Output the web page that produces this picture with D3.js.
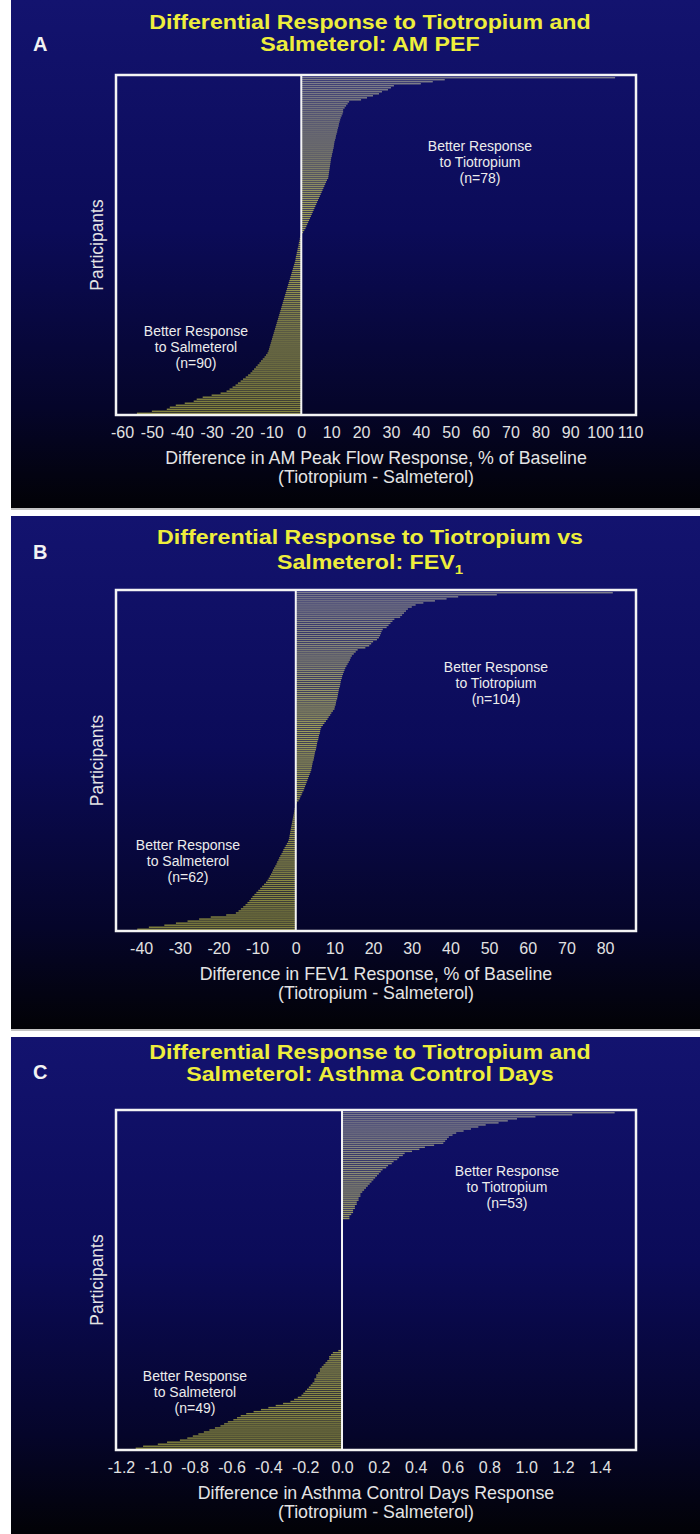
<!DOCTYPE html>
<meta charset="utf-8">
<style type="text/css">
body {
  margin: 0;
  background: #fff;
  font-family: "Liberation Sans", Arial, sans-serif;
}
.title { font-size: 20px; font-weight: bold; fill: #eeee3c; }
.letter { font-size: 20px; font-weight: bold; fill: #f2f2f2; }
.axis text { font-size: 16px; fill: #e2e2e2; font-family: "Liberation Sans", Arial, sans-serif; }
.axis path, .axis line { display: none; }
.axis-title { font-size: 17.8px; fill: #e4e4e4; }
.note { font-size: 14px; fill: #ececec; }
.ylabel { font-size: 17.5px; fill: #e4e4e4; }
</style>
<body>
<script src="https://cdn.jsdelivr.net/npm/d3@7"></script>
<script>
// ---- data (sorted, top of plot = first value) ----
var amPefPositive = [105, 48, 44, 40, 31, 30, 29, 27, 26, 24, 22, 20, 16, 15.5, 15,
  14.5, 14, 14, 13.8, 13.5, 13.2, 13, 12.8, 12.6, 12.5, 12.3, 12.1, 12, 11.8, 11.6,
  11.5, 11.3, 11.1, 11, 10.9, 10.8, 10.6, 10.5, 10.3, 10.2, 10, 9.9, 9.8, 9.7, 9.6,
  9.5, 9.4, 9.3, 9.2, 9.1, 9.0, 8.6, 8.3, 8.0, 7.7, 7.4, 7.1, 6.8, 6.5, 6.2, 5.9,
  5.6, 5.3, 5.0, 4.7, 4.4, 4.1, 3.8, 3.5, 3.2, 2.9, 2.6, 2.3, 2.0, 1.7, 1.4, 1.0, 0.6];
var amPefNegative = [-0.2, -0.3, -0.5, -0.6, -0.8, -0.9, -1.0, -1.2, -1.3, -1.5, -1.6,
  -1.8, -1.9, -2.0, -2.2, -2.4, -2.6, -2.8, -3.0, -3.2, -3.4, -3.6, -3.8, -4.0, -4.2,
  -4.4, -4.6, -4.8, -5.0, -5.2, -5.4, -5.6, -5.8, -6.0, -6.2, -6.4, -6.6, -6.8, -7.0,
  -7.2, -7.4, -7.6, -7.8, -8.0, -8.2, -8.4, -8.6, -8.8, -9.0, -9.2, -9.4, -9.6, -9.8,
  -10.0, -10.2, -10.4, -10.6, -10.8, -11.0, -11.3, -11.8, -12.3, -12.9, -13.5, -14.0,
  -14.6, -15.2, -15.8, -16.4, -17.0, -17.8, -18.6, -19.5, -20.3, -21.2, -22.0, -23.0,
  -24, -25, -27, -30, -33, -35, -36, -39, -42, -44, -45, -50, -55];

var fevPositive = [82, 52, 42, 39, 36, 33, 31, 30, 29, 28.5, 28, 27.5, 27, 25.5, 25,
  24.5, 24, 23.5, 22.5, 22.2, 22, 21.8, 21.5, 21, 20, 19.5, 19, 18, 16, 15.5, 15,
  14.5, 14.2, 14, 13.7, 13.4, 13.1, 12.8, 12.6, 12.4, 12.2, 12.0, 11.9, 11.7, 11.6,
  11.5, 11.4, 11.2, 11.1, 11.0, 10.9, 10.8, 10.7, 10.5, 10.4, 10.3, 10.1, 10.0, 9.6,
  9.2, 8.9, 8.5, 8.2, 7.8, 7.4, 7.0, 6.6, 6.4, 6.3, 6.2, 6.0, 5.9, 5.8, 5.6, 5.5, 5.4,
  5.3, 5.2, 5.0, 4.9, 4.8, 4.7, 4.6, 4.4, 4.3, 4.2, 4.1, 4.0, 3.8, 3.6, 3.4, 3.2, 3.0,
  2.8, 2.6, 2.4, 2.2, 2.0, 1.7, 1.5, 1.2, 1.0, 0.7, 0.3];
var fevNegative = [-0.1, -0.2, -0.3, -0.4, -0.5, -0.6, -0.7, -0.8, -0.9, -1.0, -1.1,
  -1.2, -1.3, -1.4, -1.5, -1.6, -1.7, -1.8, -2.0, -2.3, -2.6, -2.9, -3.2, -3.4, -3.7,
  -4.0, -4.3, -4.5, -4.8, -5.0, -5.3, -5.6, -5.9, -6.1, -6.4, -6.7, -7.0, -7.3, -7.7,
  -8.2, -8.7, -9.2, -9.7, -10.2, -10.7, -11.2, -11.6, -12.0, -12.5, -13, -13.6, -14.2,
  -14.8, -15.5, -18, -22, -25, -28, -31, -34, -38, -41];

var acdPositive = [1.48, 1.25, 1.05, 0.95, 0.90, 0.85, 0.78, 0.74, 0.70, 0.66, 0.62,
  0.60, 0.58, 0.57, 0.56, 0.55, 0.50, 0.45, 0.42, 0.38, 0.34, 0.33, 0.31, 0.30, 0.28,
  0.27, 0.25, 0.24, 0.22, 0.21, 0.20, 0.19, 0.18, 0.17, 0.16, 0.15, 0.14, 0.13, 0.12,
  0.11, 0.10, 0.10, 0.09, 0.09, 0.08, 0.08, 0.07, 0.07, 0.06, 0.06, 0.05, 0.04, 0.04];
var acdNegative = [-0.02, -0.05, -0.06, -0.07, -0.07, -0.08, -0.09, -0.10, -0.11,
  -0.12, -0.12, -0.13, -0.14, -0.14, -0.15, -0.15, -0.16, -0.17, -0.18, -0.19, -0.20,
  -0.21, -0.22, -0.24, -0.26, -0.28, -0.32, -0.36, -0.40, -0.44, -0.48, -0.52, -0.55,
  -0.57, -0.59, -0.62, -0.64, -0.66, -0.69, -0.72, -0.75, -0.78, -0.81, -0.84, -0.88,
  -0.95, -1.0, -1.08, -1.12];

// participants per panel (panel C also has participants with no difference)
var participantsA = 168;
var participantsB = 166;
var participantsC = 166;

var ticksA = [-60, -50, -40, -30, -20, -10, 0, 10, 20, 30, 40, 50, 60, 70, 80, 90, 100, 110];
var ticksB = [-40, -30, -20, -10, 0, 10, 20, 30, 40, 50, 60, 70, 80];
var ticksC = [-1.2, -1.0, -0.8, -0.6, -0.4, -0.2, 0.0, 0.2, 0.4, 0.6, 0.8, 1.0, 1.2, 1.4];

var W = 700, H = 1534;
var frameLeft = 116, frameRight = 636, titleX = 370;

var panels = [
  { letter: "A", top: 0, height: 508, frameTop: 75, frameBottom: 415,
    domain: [-62, 112], ticks: ticksA, fmt: function(d) { return String(d); },
    pos: amPefPositive, neg: amPefNegative, total: participantsA,
    title: ["Differential Response to Tiotropium and", "Salmeterol: AM PEF"], titleY: [29, 51], letterY: 51,
    axisTitle: "Difference in AM Peak Flow Response, % of Baseline",
    tio: { x: 480, y: 146, n: "(n=78)" }, sal: { x: 196, y: 331, n: "(n=90)" } },
  { letter: "B", top: 516, height: 513, frameTop: 590, frameBottom: 931,
    domain: [-46.5, 88], ticks: ticksB, fmt: function(d) { return String(d); },
    pos: fevPositive, neg: fevNegative, total: participantsB,
    title: ["Differential Response to Tiotropium vs", "Salmeterol: FEV"], sub: "1", titleY: [544, 569], letterY: 559,
    axisTitle: "Difference in FEV1 Response, % of Baseline",
    tio: { x: 496, y: 667, n: "(n=104)" }, sal: { x: 188, y: 845, n: "(n=62)" } },
  { letter: "C", top: 1037, height: 497, frameTop: 1110, frameBottom: 1450,
    domain: [-1.227, 1.596], ticks: ticksC, fmt: function(d) { return d.toFixed(1); },
    pos: acdPositive, neg: acdNegative, total: participantsC,
    title: ["Differential Response to Tiotropium and", "Salmeterol: Asthma Control Days"], titleY: [1059, 1081], letterY: 1079,
    axisTitle: "Difference in Asthma Control Days Response",
    tio: { x: 507, y: 1171, n: "(n=53)" }, sal: { x: 195, y: 1376, n: "(n=49)" } }
];

var svg = d3.select("body").append("svg")
  .attr("width", W)
  .attr("height", H);

var defs = svg.append("defs");

var bg = defs.append("linearGradient")
  .attr("id", "bg")
  .attr("x1", 0).attr("y1", 0).attr("x2", 0).attr("y2", 1);
bg.append("stop").attr("offset", "0%").attr("stop-color", "#13136f");
bg.append("stop").attr("offset", "45%").attr("stop-color", "#0b0b58");
bg.append("stop").attr("offset", "80%").attr("stop-color", "#05052a");
bg.append("stop").attr("offset", "100%").attr("stop-color", "#020206");

svg.append("rect")
  .attr("width", W)
  .attr("height", H)
  .attr("fill", "#fff");

panels.forEach(function(p, k) {
  var g = svg.append("g");

  g.append("rect")
    .attr("x", 11)
    .attr("y", p.top)
    .attr("width", W - 11)
    .attr("height", p.height)
    .attr("fill", "url(#bg)");

  // thin grey rule under each panel
  g.append("rect")
    .attr("x", 11)
    .attr("y", p.top + p.height)
    .attr("width", W - 11)
    .attr("height", 2)
    .attr("fill", "#c4c4c4");

  var barGrad = defs.append("linearGradient")
    .attr("id", "bars" + k)
    .attr("gradientUnits", "userSpaceOnUse")
    .attr("x1", 0).attr("y1", p.frameTop).attr("x2", 0).attr("y2", p.frameBottom);
  barGrad.append("stop").attr("offset", "0%").attr("stop-color", "#7c7c8c");
  barGrad.append("stop").attr("offset", "40%").attr("stop-color", "#9c9c58");
  barGrad.append("stop").attr("offset", "100%").attr("stop-color", "#82823c");

  var x = d3.scaleLinear()
    .domain(p.domain)
    .range([frameLeft, frameRight]);

  var y = d3.scaleBand()
    .domain(d3.range(p.total))
    .range([p.frameTop + 2, p.frameBottom - 1])
    .paddingInner(0.3);

  var rows = p.pos.map(function(v, i) { return { v: v, i: i }; })
    .concat(p.neg.map(function(v, j) { return { v: v, i: p.total - p.neg.length + j }; }));

  g.selectAll("rect.bar")
    .data(rows)
    .enter().append("rect")
    .attr("class", "bar")
    .attr("x", function(d) { return x(Math.min(0, d.v)); })
    .attr("width", function(d) { return Math.abs(x(d.v) - x(0)); })
    .attr("y", function(d) { return y(d.i); })
    .attr("height", y.bandwidth())
    .attr("fill", "url(#bars" + k + ")");

  // zero line
  g.append("line")
    .attr("x1", x(0)).attr("x2", x(0))
    .attr("y1", p.frameTop).attr("y2", p.frameBottom)
    .attr("stroke", "#f4f4f4")
    .attr("stroke-width", 2);

  // frame
  g.append("rect")
    .attr("x", frameLeft)
    .attr("y", p.frameTop)
    .attr("width", frameRight - frameLeft)
    .attr("height", p.frameBottom - p.frameTop)
    .attr("fill", "none")
    .attr("stroke", "#f4f4f4")
    .attr("stroke-width", 2.5);

  var axis = d3.axisBottom(x)
    .tickValues(p.ticks)
    .tickSize(0)
    .tickPadding(12)
    .tickFormat(p.fmt);

  g.append("g")
    .attr("class", "axis")
    .attr("transform", "translate(0," + p.frameBottom + ")")
    .call(axis);

  // titles (the slide text is a little wider than plain Arial Bold)
  p.title.forEach(function(t, i) {
    var tt = g.append("text")
      .attr("class", "title")
      .attr("transform", "translate(" + titleX + "," + p.titleY[i] + ") scale(1.16,1)")
      .attr("text-anchor", "middle")
      .text(t);
    if (i === 1 && p.sub) {
      tt.append("tspan")
        .attr("dy", 5)
        .style("font-size", "13px")
        .text(p.sub);
    }
  });

  g.append("text")
    .attr("class", "letter")
    .attr("x", 33)
    .attr("y", p.letterY)
    .text(p.letter);

  g.append("text")
    .attr("class", "ylabel")
    .attr("transform", "translate(97," + ((p.frameTop + p.frameBottom) / 2) + ") rotate(-90)")
    .attr("text-anchor", "middle")
    .attr("dy", "0.35em")
    .text("Participants");

  [p.axisTitle, "(Tiotropium - Salmeterol)"].forEach(function(t, i) {
    g.append("text")
      .attr("class", "axis-title")
      .attr("x", (frameLeft + frameRight) / 2)
      .attr("y", p.frameBottom + 49 + i * 19)
      .attr("text-anchor", "middle")
      .text(t);
  });

  [[p.tio, "to Tiotropium"], [p.sal, "to Salmeterol"]].forEach(function(n) {
    var lines = ["Better Response", n[1], n[0].n];
    lines.forEach(function(t, i) {
      g.append("text")
        .attr("class", "note")
        .attr("x", n[0].x)
        .attr("y", n[0].y + 5 + i * 16)
        .attr("text-anchor", "middle")
        .text(t);
    });
  });
});
</script>
</body>
